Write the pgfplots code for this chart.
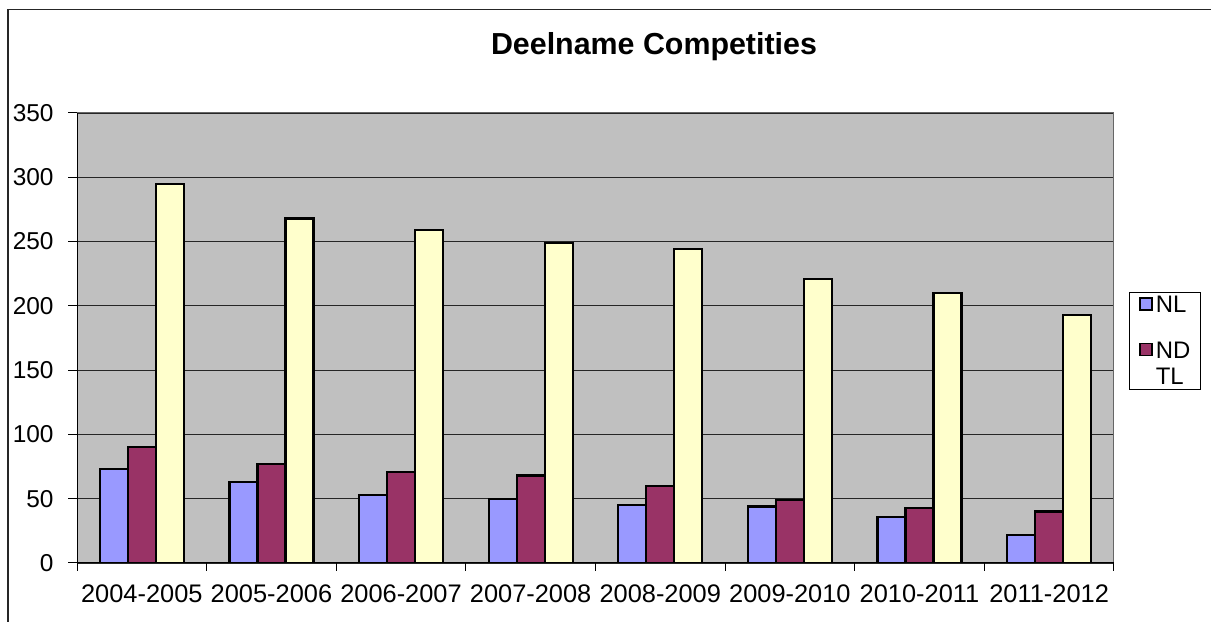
\documentclass[border=0pt]{standalone}
\usepackage{pgfplots}
\pgfplotsset{compat=1.18}
\usepackage{fontspec}
\setmainfont{Liberation Sans}
\definecolor{nlblue}{HTML}{9999FF}
\definecolor{ndpurple}{HTML}{993366}
\definecolor{tyellow}{HTML}{FFFFCC}
\definecolor{plotgray}{HTML}{C0C0C0}
\pgfplotsset{ndimg/.style={legend image code/.code={\draw[##1, line width=1.5bp] (0bp,29.2bp) rectangle (12bp,41.2bp);}}}
\begin{document}
\begin{tikzpicture}[x=1bp,y=1bp]
\useasboundingbox (0,0) rectangle (1211,622);
\draw[line width=1.5bp, black!85] (8,0) -- (8,612.5) -- (1211,612.5);
\node[font=\bfseries\fontsize{30.5}{36}\selectfont] at (654,575) {Deelname Competities};
\begin{axis}[
  at={(77bp,59bp)}, anchor=south west,
  scale only axis, width=1037bp, height=450bp,
  xmin=-0.5, xmax=7.5, ymin=0, ymax=350,
  ytick={0,50,...,350},
  xtick={0,...,7},
  xticklabels={2004-2005,2005-2006,2006-2007,2007-2008,2008-2009,2009-2010,2010-2011,2011-2012},
  minor xtick={-0.5,0.5,...,7.5},
  major x tick style={draw=none},
  minor x tick style={black, line width=1bp},
  minor tick length=8bp,
  major tick length=9bp,
  y tick style={black, line width=1bp},
  tick align=outside,
  xtick pos=bottom, ytick pos=left,
  ymajorgrids, grid style={black!85, line width=1.1bp},
  axis background/.style={fill=plotgray},
  axis line style={draw=gray!80!black, line width=1bp},
  /pgf/number format/assume math mode=true,
  yticklabel style={font=\fontsize{24.5}{28}\selectfont, xshift=-11bp},
  xticklabel style={font=\fontsize{25.5}{29}\selectfont, yshift=-9bp},
  ybar, bar width=28bp,
  every axis plot/.append style={draw=black, line width=2.2bp},
  legend style={at={(1.0145,0.6022)}, anchor=north west, draw=black, line width=0.9bp,
    fill=white, font=\fontsize{24}{26.7}\selectfont, inner xsep=10bp, inner ysep=3.5bp,
    row sep=28bp, column sep=3bp,
    nodes={inner sep=0pt, anchor=base west}},
  legend image code/.code={\draw[#1, line width=1.5bp] (0bp,2.5bp) rectangle (12bp,14.5bp);},
  legend cell align=left,
]
\addplot[fill=nlblue, bar shift=-28bp] coordinates {(0,73) (1,63) (2,53) (3,50) (4,45) (5,44) (6,36) (7,22)};
\addlegendentry{NL}
\addplot[fill=ndpurple, bar shift=0bp, ndimg]
  coordinates {(0,90) (1,77) (2,71) (3,68) (4,60) (5,49) (6,43) (7,40)};
\addlegendentry{\vbox{\hbox{ND}\hbox{TL}}}
\addplot[fill=tyellow, bar shift=28bp] coordinates {(0,295) (1,268) (2,259) (3,249) (4,244) (5,221) (6,210) (7,193)};
\draw[black, line width=1.4bp] (rel axis cs:0,1) -- (rel axis cs:0,0) -- (rel axis cs:1,0);
\end{axis}
\end{tikzpicture}
\end{document}
